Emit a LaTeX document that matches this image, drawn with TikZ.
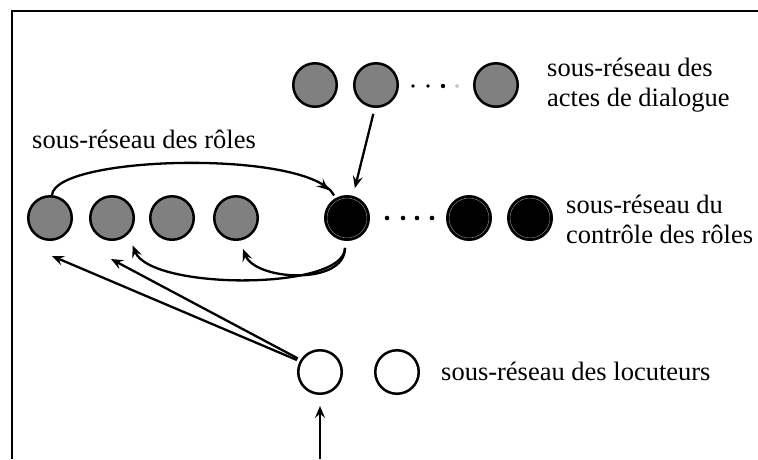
\documentclass[tikz,border=0pt]{standalone}
\usepackage{fontspec}
\setmainfont{Liberation Serif}
\usetikzlibrary{arrows.meta,decorations.markings}
\begin{document}
\begin{tikzpicture}[x=1pt,y=-1pt,
  unit/.style={circle,draw=black,line width=2.5pt,minimum size=43.5pt,inner sep=0pt},
  grey/.style={unit,fill=black!50},
  ctrl/.style={unit,fill=black,path picture={\draw[black!45,line width=0.5pt] (path picture bounding box.center) circle (20pt);}},
  white/.style={unit,fill=white},
  arr/.style={line width=2.3pt,-{Stealth[length=12pt,width=10pt,inset=4.5pt]}},
  midarr/.style={line width=2.3pt,postaction={decorate},
    decoration={markings,mark=at position 0.965 with {\arrow{Stealth[length=12pt,width=10pt,inset=4.5pt]}}}},
  lbl/.style={anchor=base west,inner sep=0pt,font=\fontsize{26.5}{30}\selectfont,align=left},
  dot/.style={circle,fill=black,inner sep=0pt,minimum size=4.6pt}
]
\useasboundingbox (0,0) rectangle (758,459);
% frame
\draw[line width=2.3pt] (12,459) -- (12,11) -- (758,11);

% dialogue acts sub-network
\node[grey] (a1) at (315,85) {};
\node[grey] (a2) at (376,85) {};
\node[grey] (a3) at (496,85) {};
\node[dot,minimum size=3.8pt] (ad1) at (413,86) {};
\node[dot,minimum size=3.8pt] (ad2) at (428,86) {};
\node[dot,minimum size=4.4pt] (ad3) at (443,86) {};
\node[circle,draw=black!40,line width=0.5pt,inner sep=0pt,minimum size=3pt] (ad4) at (457,86) {};
\node[lbl] (lacts) at (547,106) {sous-réseau des\\actes de dialogue};

% roles sub-network
\node[grey] (r1) at (50,218) {};
\node[grey] (r2) at (112,218) {};
\node[grey] (r3) at (172,218) {};
\node[grey] (r4) at (236,218) {};
\node[lbl] (lroles) at (32,148) {sous-réseau des rôles};

% role control sub-network
\node[ctrl] (c1) at (347,218) {};
\node[dot] (cd1) at (387,218) {};
\node[dot] (cd2) at (403,218) {};
\node[dot] (cd3) at (417,218) {};
\node[dot] (cd4) at (432,218) {};
\node[ctrl] (c2) at (469,218) {};
\node[ctrl] (c3) at (530,218) {};
\node[lbl] (lctrl) at (566,243) {sous-réseau du\\contrôle des rôles};

% speakers sub-network
\node[white] (l1) at (320,372) {};
\node[white] (l2) at (397,372) {};
\node[lbl] (lloc) at (441,380) {sous-réseau des locuteurs};

% connectors
\coordinate (t1) at (52,256);
\coordinate (t2) at (111,259);
\coordinate (bot) at (320,459);

\draw[arr,shorten <=6pt,shorten >=8pt] (a2.-93) -- (c1.75);
\draw[midarr,shorten >=3pt] (r1.85) .. controls +(3,-40) and +(-26,-49) .. (c1.120);
\draw[arr,shorten <=7pt,shorten >=12pt] (c1.-95) .. controls +(0,50) and +(22,56) .. (r2.-45);
\draw[arr,shorten <=7pt,shorten >=9pt] (c1.-95) .. controls +(0,45) and +(15,40) .. (r4.-80);
\draw[arr,shorten <=3pt] (l1.152) -- (t1);
\draw[arr,shorten <=3pt] (l1.148) -- (t2);
\draw[arr,shorten >=11pt] (bot) -- (l1.south);
\end{tikzpicture}
\end{document}
